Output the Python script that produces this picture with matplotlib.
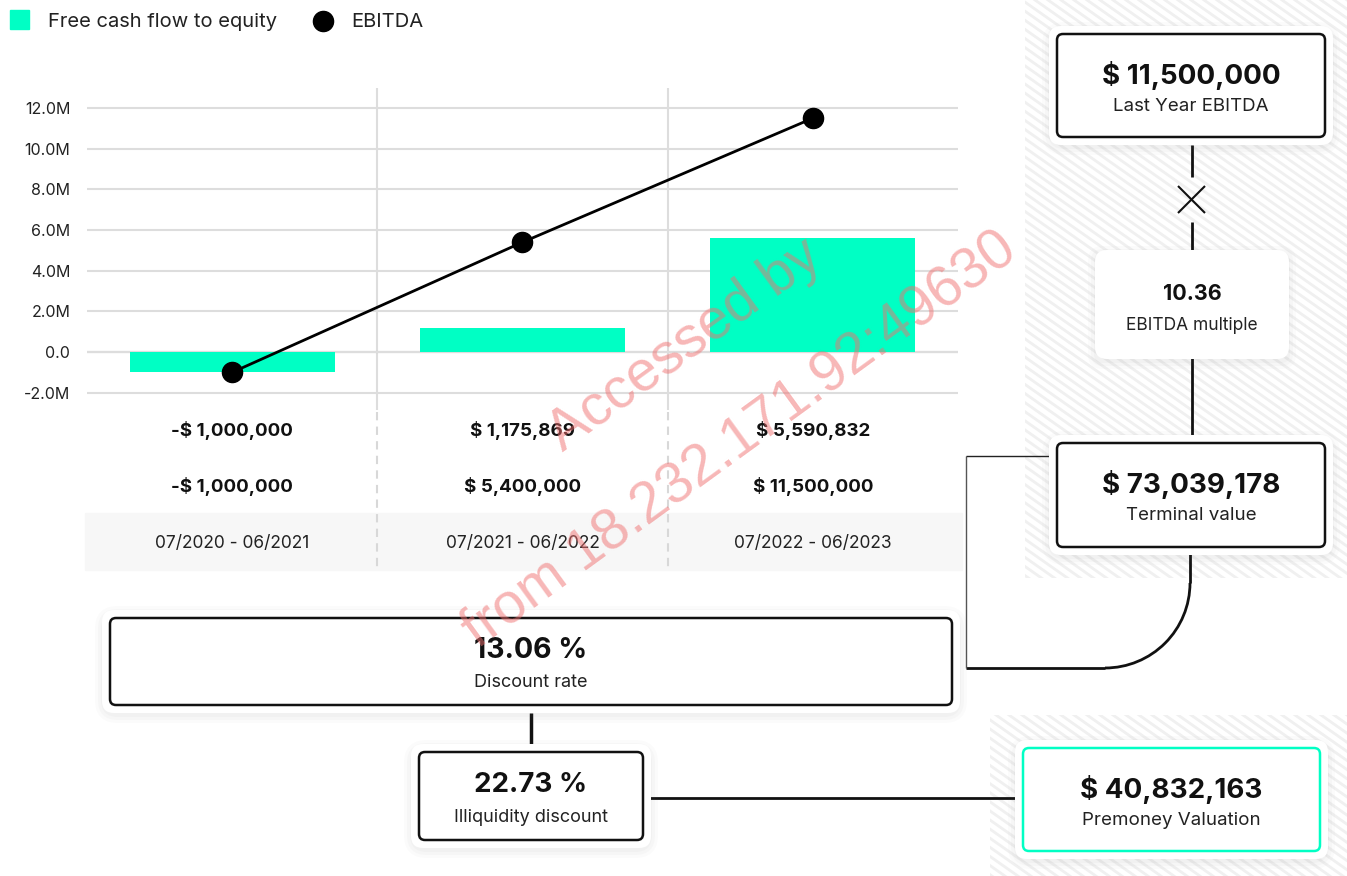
import math

import matplotlib
matplotlib.use("Agg")
import matplotlib.pyplot as plt
import matplotlib.transforms as mtransforms
from matplotlib.patches import Arc, FancyBboxPatch, Rectangle

# --- data ------------------------------------------------------------------
periods = ["07/2020 - 06/2021", "07/2021 - 06/2022", "07/2022 - 06/2023"]
fcfe = [-1000000, 1175869, 5590832]
ebitda = [-1000000, 5400000, 11500000]
series_names = ["Free cash flow to equity", "EBITDA"]
yticks = [-2e6, 0, 2e6, 4e6, 6e6, 8e6, 10e6, 12e6]
ytick_labels = ["-2.0M", "0.0", "2.0M", "4.0M", "6.0M", "8.0M", "10.0M", "12.0M"]

last_year_ebitda = 11500000
ebitda_multiple = 10.36
terminal_value = 73039178
discount_rate = 13.06
illiquidity_discount = 22.73
premoney_valuation = 40832163

watermark = ["Accessed by", "from 18.232.171.92:49630"]

MINT = "#00FFC4"
INK = "#111111"
FONT = "Inter"

plt.rcParams["font.family"] = [FONT, "DejaVu Sans"]


def money(v):
    sign = "-" if v < 0 else ""
    return f"{sign}$ {abs(v):,.0f}"


W, H = 1347, 876
fig = plt.figure(figsize=(W / 100, H / 100), dpi=100)

# background canvas in pixel coordinates
bg = fig.add_axes([0, 0, 1, 1])
bg.set_xlim(0, W)
bg.set_ylim(H, 0)
bg.axis("off")

# faint striped panels behind the right-hand cards
slope = math.tan(math.radians(35))
for (x0, y0, x1, y1) in [(1025, 0, W, 578), (990, 715, W, H)]:
    clip = Rectangle((x0, y0), x1 - x0, y1 - y0, fc="none", ec="none")
    bg.add_patch(clip)
    c = y0 - slope * (x1 - x0)
    while c < y1:
        ln, = bg.plot([x0, x1], [c, c + slope * (x1 - x0)], color="#F0F0F0",
                      lw=2.0, zorder=0)
        ln.set_clip_path(clip)
        c += 13 * slope

# --- chart -----------------------------------------------------------------
ax = fig.add_axes([87 / W, 1 - 410 / H, (958 - 87) / W, (410 - 88) / H])
ax.patch.set_alpha(0)
x = list(range(len(periods)))
ax.set_xlim(-0.5, len(periods) - 0.5)
ax.set_ylim(-(410 - 352) / 20.33 * 1e6, (352 - 88) / 20.33 * 1e6)
ax.bar(x, fcfe, width=0.707, color=MINT, zorder=2)
ax.plot(x, ebitda, color="black", lw=2, marker="o", ms=14.5, zorder=4)
ax.set_yticks(yticks)
ax.set_yticklabels(ytick_labels)
ax.yaxis.grid(True, color="#DDDDDD", lw=1.5, zorder=0)
ax.axhline(0, color="#A6A6A6", lw=1.5, zorder=1)
for b in [i + 0.5 for i in x[:-1]]:
    ax.axvline(b, color="#DDDDDD", lw=1.5, zorder=0)
ax.set_xticks([])
ax.tick_params(axis="y", length=0, pad=12, labelsize=11.5, labelcolor="#222222")
for s in ax.spines.values():
    s.set_visible(False)

# table under the chart
trans = mtransforms.blended_transform_factory(ax.transData, bg.transData)
bg.add_patch(Rectangle((85, 513), 877, 57, color="#F7F7F7", zorder=1))
for b in [i + 0.5 for i in x[:-1]]:
    bg.plot([b, b], [412, 570], transform=trans, color="#D8D8D8", lw=1.5,
            ls=(0, (4, 3)), zorder=2)
for i in x:
    bg.text(i, 430, money(fcfe[i]), transform=trans, ha="center", va="center",
            fontsize=13.5, weight="bold", color=INK)
    bg.text(i, 486, money(ebitda[i]), transform=trans, ha="center", va="center",
            fontsize=13.5, weight="bold", color=INK)
    bg.text(i, 543, periods[i], transform=trans, ha="center", va="center",
            fontsize=12.5, color="#222222", zorder=3)

# legend
bg.add_patch(Rectangle((10, 10), 19, 19, color=MINT))
bg.text(48, 22, series_names[0], ha="left", va="center", fontsize=14.5, color="#222222")
bg.plot([323], [21], "o", color="black", ms=14.5)
bg.text(351, 22, series_names[1], ha="left", va="center", fontsize=14.5, color="#222222")


# --- valuation cards -------------------------------------------------------
def card(x0, y0, x1, y1, value, label, edge=INK, border=True, vsize=20, lsize=13.5):
    w, h = x1 - x0, y1 - y0
    halo = 8 if border else 0
    for pad, a in [(halo + 7, 0.025), (halo + 4, 0.03), (halo + 1, 0.04)]:
        bg.add_patch(FancyBboxPatch((x0, y0 + 3), w, h,
                                    boxstyle=f"round,pad={pad},rounding_size={8 + pad}",
                                    fc="#777777", ec="none", alpha=a, zorder=3))
    if border:
        bg.add_patch(FancyBboxPatch((x0, y0), w, h,
                                    boxstyle=f"round,pad={halo},rounding_size=12",
                                    fc="white", ec="none", zorder=3))
    bg.add_patch(FancyBboxPatch((x0, y0), w, h,
                                boxstyle=f"round,pad=0,rounding_size={6 if border else 12}",
                                fc="white", ec=edge if border else "none",
                                lw=1.8, zorder=4))
    cx, cy = (x0 + x1) / 2, (y0 + y1) / 2
    bg.text(cx, cy - 10.5, value, ha="center", va="center", fontsize=vsize,
            weight="bold", color=INK, zorder=5)
    bg.text(cx, cy + 21, label, ha="center", va="center", fontsize=lsize,
            color="#222222", zorder=5)


def link(xs, ys, lw=2, color=INK):
    bg.plot(xs, ys, color=color, lw=lw, solid_capstyle="butt", zorder=2)


# connectors
link([1192, 1192], [145, 177])
link([1178, 1205], [186, 213], lw=1.5)
link([1205, 1178], [186, 213], lw=1.5)
link([1192, 1192], [222, 250])
link([1192, 1192], [358, 436])
link([1190, 1190], [547, 583])
bg.add_patch(Arc((1105, 583), 170, 170, theta1=0, theta2=90, color=INK, lw=2, zorder=2))
link([1105, 966], [668, 668])
link([966, 966], [456, 668], lw=1, color="#555555")
link([966, 1050], [456, 456], lw=1, color="#222222")
link([531, 531], [713, 745], lw=2.5)
link([648, 1016], [798, 798])

card(1057, 34, 1325, 137, money(last_year_ebitda), "Last Year EBITDA")
card(1095, 250, 1289, 359, f"{ebitda_multiple:.2f}", "EBITDA multiple",
     border=False, vsize=15.5, lsize=12.5)
card(1057, 443, 1325, 547, money(terminal_value), "Terminal value")
card(110, 618, 952, 705, f"{discount_rate:.2f} %", "Discount rate", vsize=20.5, lsize=13)
card(419, 752, 643, 840, f"{illiquidity_discount:.2f} %", "Illiquidity discount",
     vsize=20, lsize=13)
card(1023, 748, 1320, 851, money(premoney_valuation), "Premoney Valuation", edge=MINT)

# watermark on top of everything
top = fig.add_axes([0, 0, 1, 1], zorder=10)
top.set_xlim(0, W)
top.set_ylim(H, 0)
top.axis("off")
top.patch.set_alpha(0)
for (cx, cy), t in zip([(685, 345), (740, 440)], watermark):
    top.text(cx, cy, t, ha="center", va="center", rotation=36, rotation_mode="anchor",
             fontsize=41, family="Liberation Sans", color="#F07070", alpha=0.5)

fig.savefig("out.png", dpi=100)
